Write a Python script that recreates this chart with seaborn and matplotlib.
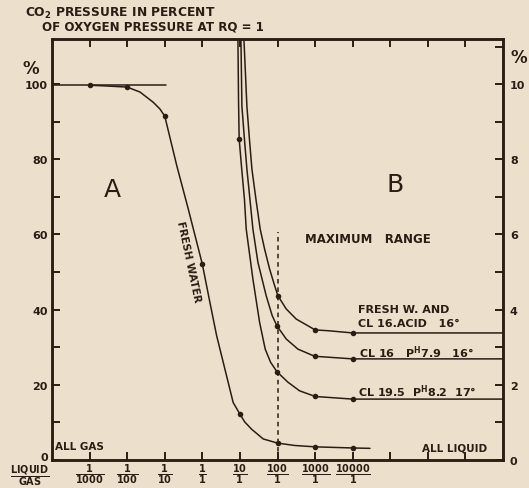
"""
CO2 pressure in percent of oxygen pressure at RQ = 1,
as a function of the liquid/gas ratio (A: fresh water, B: chloride solutions).
"""
import numpy as np
import seaborn as sns
import matplotlib.pyplot as plt
from matplotlib.transforms import ScaledTranslation

# --- data (x given as log10 of liquid/gas ratio) ---
# A, fresh water, left scale (%)
fresh_log = [-3.0, -2.54, -2.0, -1.66, -1.31, -1.13, -1.0, -0.68, -0.375, 0.0, 0.20, 0.38, 0.60, 0.82,
             1.0, 1.13, 1.31, 1.62, 2.0, 2.46, 3.0, 4.0, 4.46]
fresh_y = [99.7, 99.5, 99.2, 97.9, 95.2, 93.4, 91.5, 78.3, 66.8, 52.1, 42.0, 33.1, 24.2, 15.3,
           12.2, 10.1, 8.2, 5.6, 4.5, 3.86, 3.5, 3.2, 3.1]
fresh_pts_log = [-3, -2, -1, 0, 1, 2, 3, 4]
fresh_pts_y = [99.7, 99.2, 91.5, 52.1, 12.2, 4.5, 3.5, 3.2]
allgas_log = [-4.0, -0.97]
allgas_y = [99.7, 99.7]

# B, right scale (%)
acid_log = [1.106, 1.186, 1.253, 1.319, 1.426, 1.54, 1.657, 1.79, 1.923, 2.011, 2.231, 2.497, 3.003, 3.34, 4.0, 8.0]
acid_y = [11.2, 9.41, 8.54, 7.74, 6.94, 6.14, 5.61, 5.08, 4.64, 4.37, 4.02, 3.75, 3.46, 3.44, 3.38, 3.38]
acid_pts_log = [2.011, 3.003, 4.0]
acid_pts_y = [4.37, 3.46, 3.38]

cl16_log = [1.027, 1.053, 1.12, 1.186, 1.266, 1.346, 1.479, 1.699, 1.859, 1.984, 2.231, 2.543, 2.987, 4.0, 8.0]
cl16_y = [11.2, 9.41, 8.54, 7.74, 6.94, 6.14, 5.26, 4.37, 3.84, 3.57, 3.22, 2.95, 2.76, 2.69, 2.69]
cl16_pts_log = [1.984, 2.987, 4.0]
cl16_pts_y = [3.57, 2.76, 2.69]

cl195_log = [0.947, 0.963, 0.98, 1.048, 1.12, 1.168, 1.346, 1.524, 1.673, 1.816, 1.984, 2.277, 2.588, 3.003, 4.0, 8.0]
cl195_y = [11.2, 9.57, 8.54, 7.74, 6.94, 6.14, 4.81, 3.66, 2.95, 2.60, 2.35, 2.07, 1.84, 1.69, 1.62, 1.62]
cl195_pts_log = [0.98, 1.984, 3.003, 4.0]
cl195_pts_y = [8.54, 2.35, 1.69, 1.62]

x_tick_labels = [r"$\frac{\mathbf{1}}{\mathbf{1000}}$", r"$\frac{\mathbf{1}}{\mathbf{100}}$",
                 r"$\frac{\mathbf{1}}{\mathbf{10}}$", r"$\frac{\mathbf{1}}{\mathbf{1}}$",
                 r"$\frac{\mathbf{10}}{\mathbf{1}}$", r"$\frac{\mathbf{100}}{\mathbf{1}}$",
                 r"$\frac{\mathbf{1000}}{\mathbf{1}}$", r"$\frac{\mathbf{10000}}{\mathbf{1}}$"]
left_labels = ["0", "20", "40", "60", "80", "100"]
right_labels = ["0", "2", "4", "6", "8", "10"]

paper = "#ece0cc"
ink = "#2b1d14"

sns.set_style("ticks")
plt.rcParams['font.family'] = ['DejaVu Sans']
plt.rcParams['mathtext.fontset'] = 'dejavusans'

fig = plt.figure(figsize=(5.29, 4.89), dpi=100)
fig.patch.set_facecolor(paper)
ax = fig.add_axes([52 / 529, 28 / 489, 451 / 529, 421 / 489])
ax.set_facecolor(paper)
ax2 = ax.twinx()


def tx(logs):
    return 10 ** np.array(logs, dtype=float)


line_kw = dict(color=ink, linewidth=1.1, sort=False, estimator=None, legend=False)
pt_kw = dict(color=ink, s=16, edgecolor=ink, linewidth=0, legend=False, zorder=5)

# curve A on left axis
sns.lineplot(x=tx(allgas_log), y=allgas_y, ax=ax, **line_kw)
sns.lineplot(x=tx(fresh_log), y=fresh_y, ax=ax, **line_kw)
sns.scatterplot(x=tx(fresh_pts_log), y=fresh_pts_y, ax=ax, **pt_kw)

# curves B on right axis
for lx, ly, px, py in [(acid_log, acid_y, acid_pts_log, acid_pts_y),
                       (cl16_log, cl16_y, cl16_pts_log, cl16_pts_y),
                       (cl195_log, cl195_y, cl195_pts_log, cl195_pts_y)]:
    sns.lineplot(x=tx(lx), y=ly, ax=ax2, **line_kw)
    sns.scatterplot(x=tx(px), y=py, ax=ax2, **pt_kw)

# maximum range marker
ax.plot([100, 100], [0, 60.6], color=ink, linestyle=(0, (3, 2.5)), linewidth=1.1)

ax.set_xscale("log")
ax.set_xlim(1e-4, 1e8)
ax.set_ylim(0, 112)
ax2.set_ylim(0, 11.2)

ax.set_xticks(tx(range(-3, 8)))
ax.set_xticklabels(x_tick_labels + [""] * 3, fontsize=10)
ax.xaxis.set_minor_locator(plt.NullLocator())
ax.set_yticks(range(0, 101, 10))
ax.set_yticklabels([left_labels[i // 2] if i % 2 == 0 else "" for i in range(11)],
                   fontsize=8, fontweight="bold")
ax2.set_yticks(range(0, 12))
ax2.set_yticklabels([right_labels[i // 2] if i % 2 == 0 and i <= 10 else "" for i in range(12)],
                    fontsize=8, fontweight="bold")

ax.tick_params(axis="both", which="both", direction="in", length=6, width=1.4,
               colors=ink, top=True, pad=3)
ax.tick_params(axis="x", pad=1)
ax2.tick_params(axis="y", direction="in", length=6, width=1.4, colors=ink, pad=5)
for a in (ax, ax2):
    for s in a.spines.values():
        s.set_linewidth(1.8)
        s.set_color(ink)
    a.set_xlabel("")
    a.set_ylabel("")

# lift the left "0" a little, as in the original
zero = ax.get_yticklabels()[0]
zero.set_transform(zero.get_transform() + ScaledTranslation(0, 3 / 72, fig.dpi_scale_trans))

# texts inside the plot
bold = dict(color=ink, fontweight="bold", fontsize=7.5)
ax.text(10 ** -2.40, 72, "A", fontsize=18, color=ink, ha="center", va="center")
ax.text(10 ** 5.12, 73.4, "B", fontsize=18, color=ink, ha="center", va="center")
ax.text(10 ** -0.36, 53, "FRESH WATER", rotation=-78, ha="center", va="center", **bold)
ax.text(10 ** 2.73, 58.8, "MAXIMUM   RANGE", ha="left", va="center",
        color=ink, fontweight="bold", fontsize=8.5)
ax.text(10 ** 4.14, 40.2, "FRESH W. AND", ha="left", va="center", color=ink, fontweight="bold", fontsize=8)
ax.text(10 ** 4.14, 36.5, "CL 16.ACID   16°", ha="left", va="center", color=ink, fontweight="bold", fontsize=8)
ax.text(10 ** 4.17, 28.7, r"CL 16   $\mathbf{P^H}$7.9   16°", ha="left", va="center",
        color=ink, fontweight="bold", fontsize=8)
ax.text(10 ** 4.14, 18.4, r"CL 19.5  $\mathbf{P^H}$8.2  17°", ha="left", va="center",
        color=ink, fontweight="bold", fontsize=8)
ax.text(10 ** -3.92, 3.7, "ALL GAS", ha="left", va="center", **bold)
ax.text(10 ** 5.84, 3.2, "ALL LIQUID", ha="left", va="center", **bold)

# texts around the plot
fig.text(25 / 529, 1 - 13 / 489, r"CO$_\mathbf{2}$ PRESSURE IN PERCENT", ha="left", va="center",
         color=ink, fontweight="bold", fontsize=8.8)
fig.text(42 / 529, 1 - 27 / 489, "OF OXYGEN PRESSURE AT RQ = 1", ha="left", va="center",
         color=ink, fontweight="bold", fontsize=8.6)
fig.text(31 / 529, 1 - 69 / 489, "%", ha="center", va="center", color=ink, fontweight="bold", fontsize=12)
fig.text(519 / 529, 1 - 58 / 489, "%", ha="center", va="center", color=ink, fontweight="bold", fontsize=12)
fig.text(30 / 529, 1 - 476 / 489, r"$\frac{\mathbf{LIQUID}}{\mathbf{GAS}}$", ha="center", va="center",
         color=ink, fontsize=10)

fig.savefig("out.png", dpi=100, facecolor=paper)
